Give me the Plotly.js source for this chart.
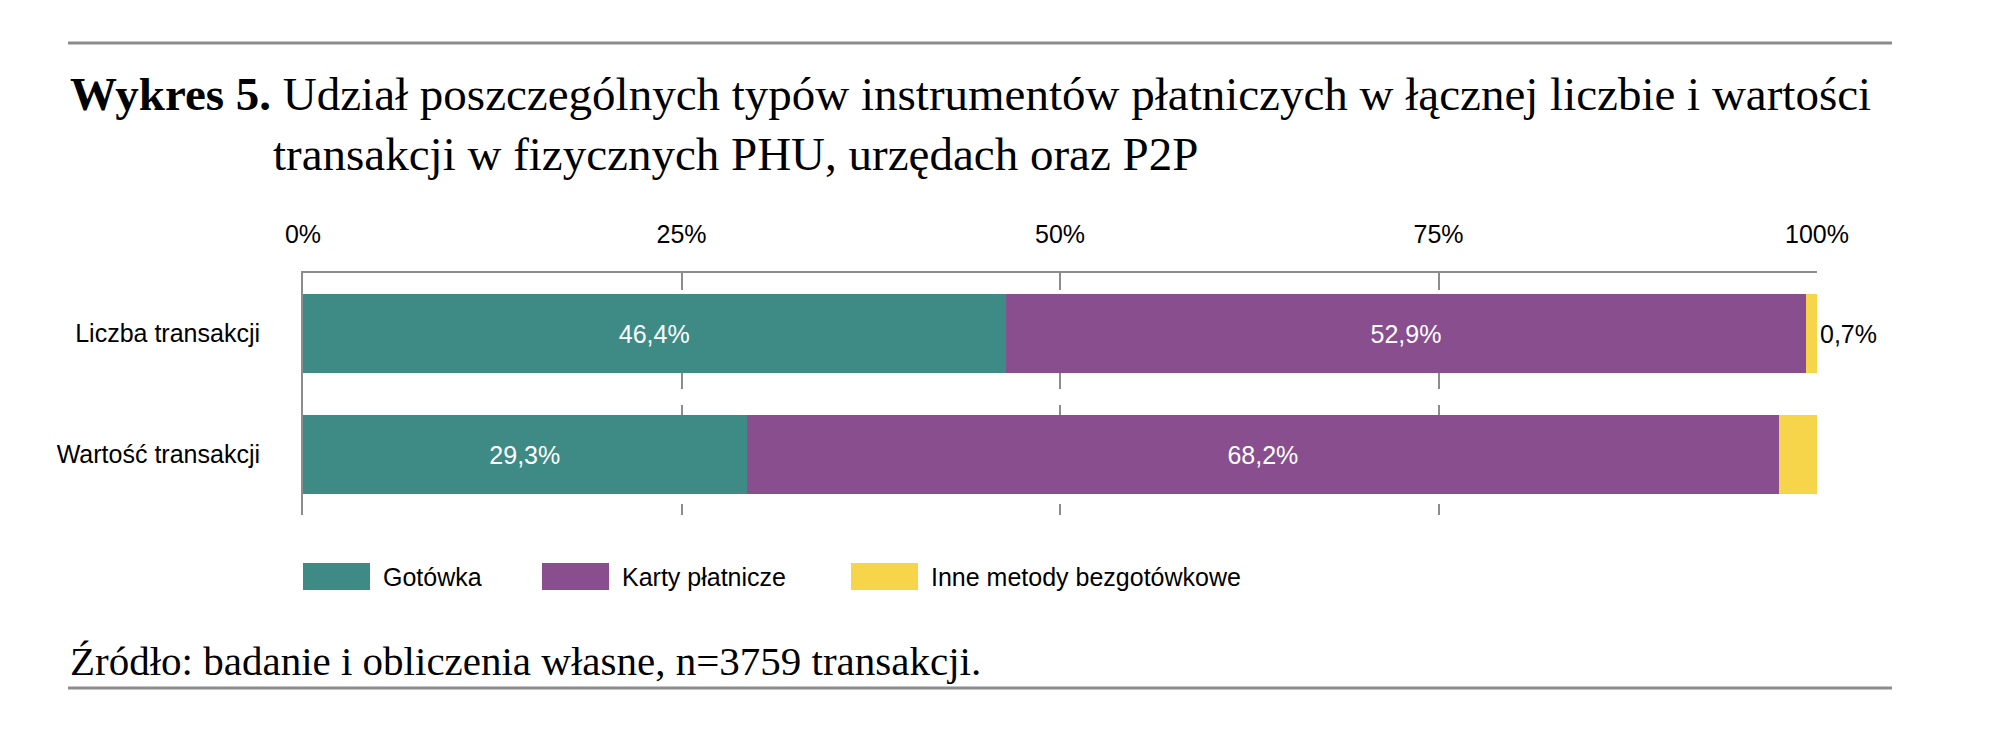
<!DOCTYPE html>
<html>
<head>
<meta charset="utf-8">
<script src="https://cdn.plot.ly/plotly-3.0.1.min.js"></script>
<style>
  html, body { margin: 0; padding: 0; background: #fff; }
</style>
</head>
<body>
<div id="myDiv" style="width:2004px;height:756px;"></div>
<script>
const categories = ["Liczba transakcji", "Wartość transakcji"]
const seriesNames = ["Gotówka", "Karty płatnicze", "Inne metody bezgotówkowe"]
const gotowka = [46.4, 29.3]
const karty = [52.9, 68.2]
const inne = [0.7, 2.6]
const tickVals = [0, 25, 50, 75, 100]
const tickLabels = ["0%", "25%", "50%", "75%", "100%"]

const colors = ["#3e8a84", "#884e8e", "#f7d54a"]
const sans = "Liberation Sans Narrow, Arial Narrow, Liberation Sans, sans-serif"
const serif = "Liberation Serif, Times New Roman, serif"

// plot area in px
const L = 303, R = 1817, T = 273, B = 515
const W = R - L, H = B - T
const px = (x) => (x - L) / W
const py = (y) => 1 - (y - T) / H

const fmt = (v) => v.toFixed(1).replace(".", ",") + "%"

const values = [gotowka, karty, inne]
const data = values.map((vals, i) => {
  return {
    type: "bar",
    orientation: "h",
    name: seriesNames[i],
    y: categories,
    x: vals,
    marker: { color: colors[i], line: { width: 0 } },
    text: vals.map(fmt),
    textposition: i == 2 ? "outside" : "inside",
    insidetextanchor: "middle",
    textangle: 0,
    constraintext: "none",
    cliponaxis: false,
    textfont: { family: sans, size: 25, color: i == 2 ? "#000" : "#fff" },
    hoverinfo: "skip",
    showlegend: false,
  }
})

// legend drawn by hand so the swatches can be wide boxes
const legendX = [303, 542, 851]
const shapes = []
const annotations = []
seriesNames.forEach((name, i) => {
  shapes.push({
    type: "rect", xref: "paper", yref: "paper",
    x0: px(legendX[i]), x1: px(legendX[i] + 67),
    y0: py(590), y1: py(563),
    fillcolor: colors[i], line: { width: 0 },
  })
  annotations.push({
    xref: "paper", yref: "paper",
    x: px(legendX[i] + 78), y: py(577),
    xanchor: "left", yanchor: "middle",
    text: name, showarrow: false,
    font: { family: sans, size: 25, color: "#000" },
  })
})

// rules above title and below source
shapes.push({
  type: "line", xref: "paper", yref: "paper",
  x0: px(68), x1: px(1892), y0: py(43), y1: py(43),
  line: { color: "#8c8c8c", width: 3 },
})
shapes.push({
  type: "line", xref: "paper", yref: "paper",
  x0: px(68), x1: px(1892), y0: py(688), y1: py(688),
  line: { color: "#8c8c8c", width: 3 },
})

annotations.push({
  xref: "paper", yref: "paper", x: px(68), y: py(94),
  xanchor: "left", yanchor: "middle", showarrow: false,
  text: "<b>Wykres 5.</b> Udział poszczególnych typów instrumentów płatniczych w łącznej liczbie i wartości",
  font: { family: serif, size: 47, color: "#000" },
})
annotations.push({
  xref: "paper", yref: "paper", x: px(271), y: py(154),
  xanchor: "left", yanchor: "middle", showarrow: false,
  text: "transakcji w fizycznych PHU, urzędach oraz P2P",
  font: { family: serif, size: 47, color: "#000" },
})
annotations.push({
  xref: "paper", yref: "paper", x: px(68), y: py(661),
  xanchor: "left", yanchor: "middle", showarrow: false,
  text: "Źródło: badanie i obliczenia własne, n=3759 transakcji.",
  font: { family: serif, size: 41, color: "#000" },
})

const layout = {
  width: 2004,
  height: 756,
  margin: { l: L, r: 2004 - R, t: T, b: 756 - B, pad: 0 },
  paper_bgcolor: "#fff",
  plot_bgcolor: "#fff",
  barmode: "stack",
  bargap: 0.34,
  showlegend: false,
  xaxis: {
    side: "top",
    range: [0, 100],
    tickvals: tickVals,
    ticktext: tickLabels,
    ticks: "",
    ticklabelstandoff: 18,
    tickfont: { family: sans, size: 25, color: "#000" },
    showgrid: true,
    gridcolor: "#8c8c8c",
    gridwidth: 2,
    griddash: "17px,16px",
    zeroline: false,
    showline: true,
    linecolor: "#8c8c8c",
    linewidth: 2,
    fixedrange: true,
  },
  yaxis: {
    autorange: "reversed",
    ticks: "",
    ticklabelstandoff: 36,
    tickfont: { family: sans, size: 25, color: "#000" },
    showgrid: false,
    showline: true,
    linecolor: "#8c8c8c",
    linewidth: 2,
    zeroline: false,
    fixedrange: true,
  },
  shapes: shapes,
  annotations: annotations,
}

Plotly.newPlot("myDiv", data, layout, { displayModeBar: false, staticPlot: true })
</script>
</body>
</html>
